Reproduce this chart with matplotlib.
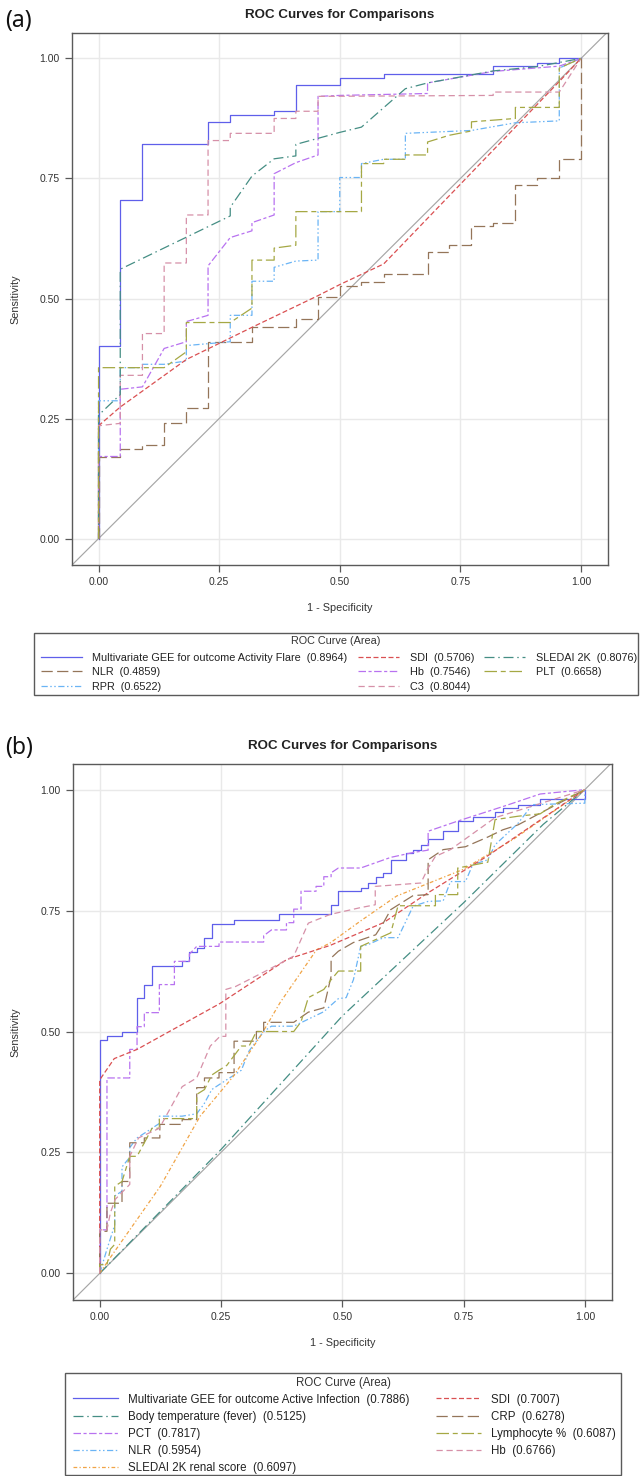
import matplotlib
matplotlib.use("Agg")
import matplotlib.pyplot as plt
from matplotlib.patches import Rectangle

plt.rcParams["font.family"] = ["Liberation Sans", "DejaVu Sans"]

W, H = 640, 1476

# ---------------- panel (a): ROC vertices (1 - specificity, sensitivity) ----------------
a_names = ["Multivariate GEE for outcome Activity Flare", "NLR", "RPR", "SDI", "Hb", "C3", "SLEDAI 2K", "PLT"]
a_auc = [0.8964, 0.4859, 0.6522, 0.5706, 0.7546, 0.8044, 0.8076, 0.6658]

a_gee_x = [0, 0, 0.045, 0.045, 0.091, 0.091, 0.227, 0.227, 0.273, 0.273, 0.364, 0.364, 0.409, 0.409,
           0.5, 0.5, 0.591, 0.591, 0.818, 0.818, 0.909, 0.909, 0.955, 0.955, 1]
a_gee_y = [0, 0.402, 0.402, 0.705, 0.705, 0.821, 0.821, 0.868, 0.868, 0.883, 0.883, 0.890, 0.890, 0.945,
           0.945, 0.96, 0.96, 0.968, 0.968, 0.984, 0.984, 0.991, 0.991, 1, 1]

a_nlr_x = [0, 0, 0.045, 0.045, 0.091, 0.091, 0.136, 0.136, 0.182, 0.182, 0.227, 0.227, 0.318, 0.318,
           0.409, 0.409, 0.455, 0.455, 0.5, 0.5, 0.545, 0.545, 0.591, 0.591, 0.682, 0.682, 0.727, 0.727,
           0.773, 0.773, 0.818, 0.818, 0.864, 0.864, 0.909, 0.909, 0.955, 0.955, 1, 1]
a_nlr_y = [0, 0.17, 0.17, 0.186, 0.186, 0.194, 0.194, 0.24, 0.24, 0.271, 0.271, 0.41, 0.41, 0.44,
           0.44, 0.458, 0.458, 0.503, 0.503, 0.527, 0.527, 0.535, 0.535, 0.551, 0.551, 0.596, 0.596, 0.612,
           0.612, 0.651, 0.651, 0.658, 0.658, 0.736, 0.736, 0.752, 0.752, 0.791, 0.791, 1]

a_rpr_x = [0, 0, 0.045, 0.045, 0.091, 0.091, 0.136, 0.182, 0.182, 0.273, 0.273, 0.318, 0.318, 0.364,
           0.364, 0.409, 0.455, 0.455, 0.5, 0.5, 0.545, 0.545, 0.591, 0.636, 0.636, 0.773, 0.864, 0.955,
           0.955, 1]
a_rpr_y = [0, 0.287, 0.287, 0.356, 0.356, 0.363, 0.363, 0.37, 0.402, 0.41, 0.465, 0.465, 0.536, 0.536,
           0.565, 0.578, 0.58, 0.681, 0.681, 0.752, 0.752, 0.781, 0.79, 0.79, 0.844, 0.85, 0.866, 0.87,
           0.98, 1]

a_sdi_x = [0, 0, 0.045, 0.182, 0.318, 0.455, 0.5, 0.591, 0.955, 1]
a_sdi_y = [0, 0.235, 0.274, 0.373, 0.44, 0.506, 0.529, 0.572, 0.952, 1]

a_hb_x = [0, 0, 0.045, 0.045, 0.091, 0.136, 0.182, 0.182, 0.227, 0.227, 0.273, 0.318, 0.318, 0.364,
          0.364, 0.409, 0.455, 0.455, 0.5, 0.682, 0.682, 0.818, 0.955, 1]
a_hb_y = [0, 0.171, 0.171, 0.311, 0.316, 0.396, 0.41, 0.452, 0.465, 0.568, 0.627, 0.641, 0.658, 0.674,
          0.76, 0.783, 0.799, 0.921, 0.923, 0.927, 0.949, 0.973, 0.984, 1]

a_c3_x = [0, 0, 0.045, 0.045, 0.091, 0.091, 0.136, 0.136, 0.182, 0.182, 0.227, 0.227, 0.273, 0.273,
          0.364, 0.364, 0.409, 0.409, 0.455, 0.455, 0.818, 0.818, 0.955, 1]
a_c3_y = [0, 0.235, 0.24, 0.34, 0.34, 0.427, 0.427, 0.574, 0.574, 0.674, 0.674, 0.829, 0.829, 0.844,
          0.844, 0.875, 0.875, 0.89, 0.89, 0.921, 0.923, 0.93, 0.93, 1]

a_sled_x = [0, 0, 0.045, 0.045, 0.273, 0.273, 0.318, 0.364, 0.409, 0.409, 0.5, 0.545, 0.636, 0.682,
            0.818, 0.909, 1]
a_sled_y = [0, 0.257, 0.30, 0.561, 0.672, 0.69, 0.755, 0.791, 0.797, 0.821, 0.846, 0.857, 0.937, 0.949,
            0.974, 0.983, 1]

a_plt_x = [0, 0, 0.136, 0.182, 0.182, 0.273, 0.318, 0.318, 0.364, 0.364, 0.409, 0.409, 0.545, 0.545,
           0.591, 0.591, 0.636, 0.636, 0.682, 0.682, 0.727, 0.773, 0.773, 0.864, 0.864, 0.955, 0.955, 1]
a_plt_y = [0, 0.356, 0.356, 0.389, 0.45, 0.45, 0.48, 0.58, 0.58, 0.605, 0.611, 0.681, 0.681, 0.781,
           0.781, 0.79, 0.79, 0.799, 0.799, 0.826, 0.84, 0.849, 0.868, 0.875, 0.898, 0.898, 0.98, 1]

# ---------------- panel (b) ----------------
b_names = ["Multivariate GEE for outcome Active Infection", "Body temperature (fever)", "PCT", "NLR",
           "SLEDAI 2K renal score", "SDI", "CRP", "Lymphocyte %", "Hb"]
b_auc = [0.7886, 0.5125, 0.7817, 0.5954, 0.6097, 0.7007, 0.6278, 0.6087, 0.6766]

b_gee_x = [0, 0, 0.015, 0.015, 0.046, 0.046, 0.077, 0.077, 0.092, 0.092, 0.108, 0.108, 0.169, 0.169,
           0.185, 0.185, 0.2, 0.2, 0.215, 0.215, 0.231, 0.231, 0.277, 0.277, 0.369, 0.369, 0.477, 0.477,
           0.492, 0.492, 0.538, 0.538, 0.554, 0.554, 0.569, 0.569, 0.585, 0.585, 0.6, 0.6, 0.631, 0.631,
           0.646, 0.646, 0.662, 0.662, 0.677, 0.677, 0.708, 0.708, 0.738, 0.738, 0.769, 0.769, 0.815,
           0.815, 0.831, 0.831, 0.862, 0.862, 0.908, 0.908, 1, 1]
b_gee_y = [0, 0.482, 0.482, 0.49, 0.49, 0.5, 0.5, 0.57, 0.57, 0.597, 0.597, 0.635, 0.635, 0.645,
           0.645, 0.665, 0.665, 0.673, 0.673, 0.694, 0.694, 0.722, 0.722, 0.73, 0.73, 0.742, 0.742, 0.761,
           0.761, 0.79, 0.79, 0.797, 0.797, 0.807, 0.807, 0.819, 0.819, 0.828, 0.828, 0.855, 0.855, 0.868,
           0.868, 0.876, 0.876, 0.886, 0.886, 0.897, 0.897, 0.914, 0.914, 0.935, 0.935, 0.943, 0.943,
           0.953, 0.953, 0.962, 0.962, 0.969, 0.969, 0.981, 0.981, 1]

b_temp_x = [0, 0.25, 0.5, 0.75, 0.914, 1]
b_temp_y = [0, 0.256, 0.532, 0.766, 0.928, 1]

b_pct_x = [0, 0, 0.015, 0.015, 0.062, 0.062, 0.077, 0.077, 0.092, 0.092, 0.123, 0.123, 0.154, 0.154,
           0.185, 0.185, 0.2, 0.246, 0.246, 0.338, 0.338, 0.354, 0.385, 0.385, 0.4, 0.4, 0.415, 0.415,
           0.446, 0.446, 0.462, 0.462, 0.477, 0.477, 0.492, 0.538, 0.6, 0.646, 0.677, 0.677, 0.738,
           0.831, 0.908, 1]
b_pct_y = [0, 0.09, 0.09, 0.404, 0.404, 0.463, 0.463, 0.51, 0.51, 0.539, 0.539, 0.597, 0.597, 0.645,
           0.645, 0.66, 0.676, 0.676, 0.685, 0.685, 0.698, 0.71, 0.71, 0.725, 0.725, 0.753, 0.753, 0.79,
           0.79, 0.8, 0.8, 0.82, 0.82, 0.828, 0.838, 0.838, 0.86, 0.87, 0.875, 0.914, 0.935,
           0.965, 0.991, 1]

b_nlr_x = [0, 0.015, 0.031, 0.031, 0.046, 0.046, 0.062, 0.062, 0.077, 0.108, 0.123, 0.123, 0.17, 0.2,
           0.215, 0.231, 0.246, 0.277, 0.292, 0.308, 0.323, 0.338, 0.354, 0.4, 0.462, 0.492, 0.508,
           0.523, 0.538, 0.554, 0.585, 0.615, 0.646, 0.677, 0.708, 0.723, 0.754, 0.769, 0.8, 0.815,
           0.862, 0.892, 1, 1]
b_nlr_y = [0, 0.05, 0.1, 0.16, 0.17, 0.22, 0.24, 0.26, 0.28, 0.3, 0.31, 0.325, 0.325, 0.33,
           0.35, 0.38, 0.39, 0.41, 0.42, 0.46, 0.48, 0.5, 0.511, 0.511, 0.541, 0.568, 0.57,
           0.607, 0.676, 0.68, 0.694, 0.694, 0.759, 0.769, 0.77, 0.81, 0.81, 0.845, 0.855, 0.886,
           0.93, 0.969, 0.972, 1]

b_renal_x = [0, 0.02, 0.125, 0.207, 0.276, 0.331, 0.372, 0.447, 0.475, 0.537, 0.612, 0.749, 0.852, 1]
b_renal_y = [0, 0.03, 0.18, 0.325, 0.408, 0.49, 0.56, 0.669, 0.683, 0.728, 0.78, 0.835, 0.897, 1]

b_sdi_x = [0, 0, 0.03, 0.077, 0.248, 0.386, 0.475, 0.585, 0.674, 0.798, 1]
b_sdi_y = [0, 0.4, 0.444, 0.463, 0.558, 0.649, 0.678, 0.725, 0.785, 0.862, 1]

b_crp_x = [0, 0, 0.015, 0.015, 0.046, 0.046, 0.062, 0.062, 0.092, 0.092, 0.124, 0.124, 0.17, 0.17,
           0.2, 0.2, 0.216, 0.216, 0.246, 0.246, 0.277, 0.277, 0.323, 0.323, 0.338, 0.338, 0.4, 0.43,
           0.462, 0.477, 0.477, 0.492, 0.523, 0.569, 0.585, 0.6, 0.646, 0.677, 0.677, 0.708, 0.754,
           0.8, 0.831, 0.862, 1]
b_crp_y = [0, 0.087, 0.087, 0.145, 0.145, 0.19, 0.19, 0.27, 0.27, 0.28, 0.28, 0.308, 0.308, 0.318,
           0.318, 0.384, 0.384, 0.404, 0.404, 0.415, 0.415, 0.48, 0.48, 0.5, 0.5, 0.519, 0.519, 0.54,
           0.549, 0.614, 0.652, 0.666, 0.684, 0.7, 0.725, 0.752, 0.781, 0.783, 0.855, 0.876, 0.882,
           0.902, 0.917, 0.927, 1]

b_lym_x = [0, 0, 0.015, 0.022, 0.031, 0.031, 0.046, 0.062, 0.077, 0.108, 0.123, 0.123, 0.2, 0.2,
           0.216, 0.231, 0.246, 0.262, 0.277, 0.292, 0.308, 0.323, 0.4, 0.415, 0.43, 0.462, 0.477,
           0.492, 0.538, 0.538, 0.6, 0.615, 0.692, 0.692, 0.738, 0.738, 0.8, 0.815, 0.862, 0.908,
           0.938, 1]
b_lym_y = [0, 0.018, 0.018, 0.05, 0.06, 0.18, 0.19, 0.242, 0.242, 0.3, 0.3, 0.32, 0.32, 0.37,
           0.38, 0.41, 0.42, 0.43, 0.45, 0.47, 0.47, 0.5, 0.5, 0.52, 0.57, 0.587, 0.607,
           0.625, 0.625, 0.676, 0.704, 0.76, 0.76, 0.783, 0.783, 0.838, 0.85, 0.938, 0.945, 0.95,
           0.97, 1]

b_hb_x = [0, 0, 0.015, 0.022, 0.032, 0.062, 0.062, 0.08, 0.123, 0.17, 0.2, 0.228, 0.248, 0.26, 0.26,
          0.28, 0.348, 0.4, 0.43, 0.475, 0.537, 0.568, 0.568, 0.662, 0.677, 0.692, 0.723, 0.815, 1]
b_hb_y = [0, 0.09, 0.09, 0.125, 0.153, 0.184, 0.242, 0.28, 0.3, 0.386, 0.404, 0.47, 0.49, 0.49, 0.587,
          0.593, 0.628, 0.656, 0.724, 0.742, 0.756, 0.762, 0.8, 0.807, 0.838, 0.862, 0.876, 0.942, 1]

# ---------------- styles ----------------
BLUE, BROWN, LBLUE, RED = "#5f5fea", "#947559", "#6ab4f5", "#da5052"
PURPLE, PINK, TEAL, OLIVE, ORANGE = "#b872f0", "#d690a8", "#458e84", "#a5a844", "#f0a446"

SOLID = "-"
LONGDASH = (0, (9, 3.5))
DASHDOTDOT = (0, (5, 2, 1.2, 2, 1.2, 2))
SHORTDASH = (0, (4, 2))
DASHDOT = (0, (6, 2, 2.5, 2))
DASH = (0, (5, 3))
LDASHDOT = (0, (8, 3, 1.2, 3))
LONGSHORT = (0, (10, 3, 4, 3))
DOTDASH = (0, (3, 1.8, 1, 1.8))

panel_a = [
    (a_gee_x, a_gee_y, BLUE, SOLID),
    (a_nlr_x, a_nlr_y, BROWN, LONGDASH),
    (a_rpr_x, a_rpr_y, LBLUE, DASHDOTDOT),
    (a_sdi_x, a_sdi_y, RED, SHORTDASH),
    (a_hb_x, a_hb_y, PURPLE, DASHDOT),
    (a_c3_x, a_c3_y, PINK, DASH),
    (a_sled_x, a_sled_y, TEAL, LDASHDOT),
    (a_plt_x, a_plt_y, OLIVE, LONGSHORT),
]
panel_b = [
    (b_gee_x, b_gee_y, BLUE, SOLID),
    (b_temp_x, b_temp_y, TEAL, LDASHDOT),
    (b_pct_x, b_pct_y, PURPLE, DASHDOT),
    (b_nlr_x, b_nlr_y, LBLUE, DASHDOTDOT),
    (b_renal_x, b_renal_y, ORANGE, DOTDASH),
    (b_sdi_x, b_sdi_y, RED, SHORTDASH),
    (b_crp_x, b_crp_y, BROWN, LONGDASH),
    (b_lym_x, b_lym_y, OLIVE, LONGSHORT),
    (b_hb_x, b_hb_y, PINK, DASH),
]

TICKS = [0, 0.25, 0.5, 0.75, 1.0]
LIM_X = (-0.055, 1.056)
LIM_Y = (-0.055, 1.053)
EDGE = "#5a5a5a"


def px_rect(left, top, right, bottom):
    return [left / W, 1 - bottom / H, (right - left) / W, (bottom - top) / H]


def draw_panel(fig, rect, series, names, aucs, letter, letter_y, title_y, xlabel_y, leg):
    ax = fig.add_axes(px_rect(*rect))
    ax.set_xlim(*LIM_X)
    ax.set_ylim(*LIM_Y)
    ax.set_xticks(TICKS)
    ax.set_yticks(TICKS)
    ax.set_xticklabels([f"{t:.2f}" for t in TICKS])
    ax.set_yticklabels([f"{t:.2f}" for t in TICKS])
    ax.grid(True, color="#e9e9e9", lw=1.0)
    ax.set_axisbelow(True)
    for s in ax.spines.values():
        s.set_color(EDGE)
        s.set_linewidth(1.0)
    ax.tick_params(length=5, width=0.9, color=EDGE, labelsize=7.5, labelcolor="#333333", pad=4)

    lo, hi = min(LIM_X[0], LIM_Y[0]), max(LIM_X[1], LIM_Y[1])
    ax.plot([lo, hi], [lo, hi], color="#a6a6a6", lw=0.85, zorder=2)

    handles = []
    for (xs, ys, c, ls), name, auc in zip(series, names, aucs):
        h, = ax.plot(xs, ys, color=c, ls=ls, lw=0.9, zorder=3, label=f"{name}  ({auc:.4f})")
        handles.append(h)

    left, top, right, bottom = rect
    cx = (left + right) / 2 / W
    fig.text(cx, 1 - title_y / H, "ROC Curves for Comparisons", ha="center", va="center",
             fontsize=9.6, fontweight="bold", color="#222222")
    fig.text(5 / W, 1 - letter_y / H, letter, ha="left", va="center", fontsize=16.5,
             family=["Noto Sans", "DejaVu Sans"], color="#111111")
    fig.text(cx, 1 - xlabel_y / H, "1 - Specificity", ha="center", va="center", fontsize=7.8, color="#333333")
    fig.text(15 / W, 1 - (top + bottom) / 2 / H, "Sensitivity", ha="center", va="center",
             rotation=90, fontsize=7.8, color="#333333")

    # legend: frame, title and entries placed separately
    bx0, by0, bx1, by1 = leg["box"]
    fig.add_artist(Rectangle((bx0 / W, 1 - by1 / H), (bx1 - bx0) / W, (by1 - by0) / H,
                             transform=fig.transFigure, fill=False, edgecolor=EDGE, lw=1.0))
    fig.text((bx0 + bx1) / 2 / W, 1 - leg["title_y"] / H, "ROC Curve (Area)", ha="center", va="center",
             fontsize=leg["fontsize"], color="#333333")
    cx0, cx1, cy0 = leg["content"]
    ncol = 3 if len(series) == 8 else 2
    lg = fig.legend(handles=handles, loc="upper left",
                    bbox_to_anchor=(cx0 / W, 1 - cy0 / H, (cx1 - cx0) / W, 0.001),
                    bbox_transform=fig.transFigure, mode="expand", ncol=ncol, frameon=False,
                    borderaxespad=0, borderpad=0, fontsize=leg["fontsize"],
                    handlelength=leg["handlelength"], handletextpad=leg["handletextpad"],
                    labelspacing=leg["labelspacing"], columnspacing=0.8)
    for t in lg.get_texts():
        t.set_color("#222222")
    return ax


fig = plt.figure(figsize=(W / 100, H / 100), dpi=100)

draw_panel(fig, (72, 33, 608, 565), panel_a, a_names, a_auc, "(a)", 21, 15, 608,
           dict(box=(34, 633, 638, 695), title_y=641, content=(41, 637, 654), fontsize=7.8,
                handlelength=3.75, handletextpad=1.0, labelspacing=0.43))
draw_panel(fig, (73, 764, 612, 1300), panel_b, b_names, b_auc, "(b)", 748, 746, 1343,
           dict(box=(65, 1373, 621, 1474.5), title_y=1383, content=(73, 616, 1395), fontsize=8.3,
                handlelength=3.9, handletextpad=0.9, labelspacing=0.45))

fig.savefig("out.png", dpi=100)
